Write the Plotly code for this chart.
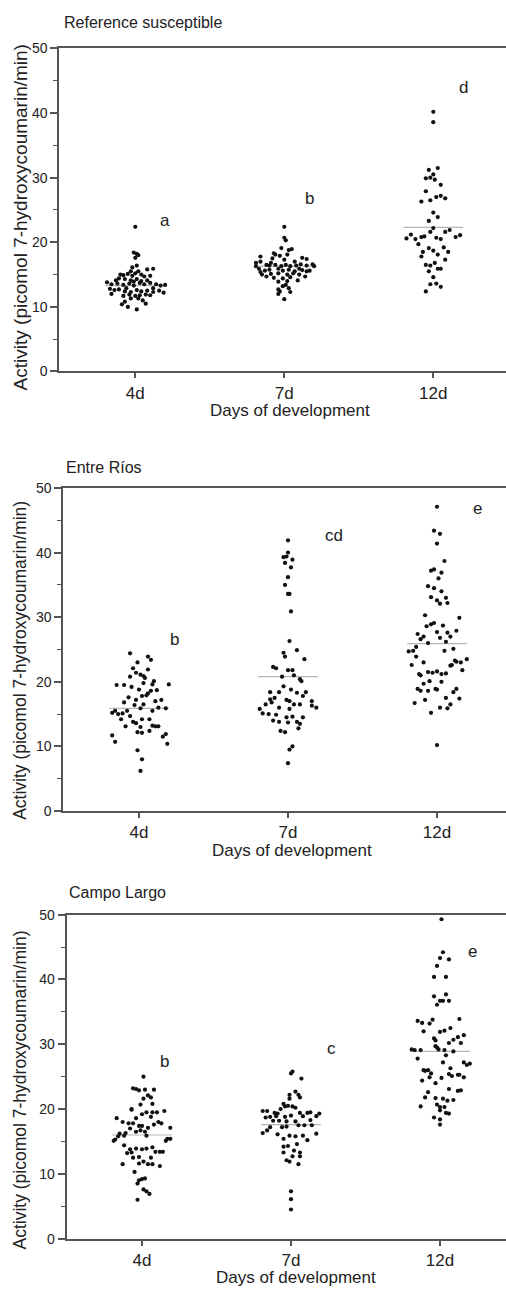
import plotly.graph_objects as go

# ---------------- data ----------------
categories = ["4d", "7d", "12d"]
panel_titles = ["Reference susceptible", "Entre Ríos", "Campo Largo"]

# Reference susceptible
ref_4d = [22.4,18.4,18.2,18.0,17.6,16.4,16.1,15.8,15.9,15.0,
          14.9,15.1,14.8,15.2,15.0,14.7,14.8,14.4,14.3,14.1,
          14.3,14.0,14.1,13.8,13.5,13.6,13.4,13.6,13.3,13.7,
          13.5,13.7,13.5,13.3,13.4,12.8,12.6,12.7,12.4,12.3,
          12.6,12.4,12.5,12.3,12.5,12.2,12.0,11.9,11.7,11.8,
          11.3,11.3,11.0,10.8,10.5,10.0,9.6,10.4,14.1,12.9,
          12.9,11.9,13.9,11.8,11.7,15.5,15.5]
ref_4d_dx = [0.00,-0.01,0.01,0.02,0.00,0.01,-0.02,0.08,0.12,-0.10,
             -0.08,-0.05,-0.02,0.00,0.04,0.06,0.10,-0.11,-0.07,-0.03,
             0.01,0.04,0.08,-0.19,-0.16,-0.12,-0.08,-0.04,-0.01,0.03,
             0.06,0.10,0.14,0.17,0.20,-0.17,-0.14,-0.11,-0.07,-0.03,
             0.01,0.04,0.08,0.12,0.16,0.19,-0.16,-0.04,0.00,0.03,
             -0.03,0.02,0.05,-0.07,0.07,-0.05,0.01,-0.09,-0.13,0.12,
             -0.06,0.07,-0.01,0.10,-0.08,0.02,-0.03]
ref_7d = [22.4,20.7,20.3,19.1,18.8,18.95,18.1,17.9,18.1,17.8,
          17.5,17.6,17.4,16.8,17.0,16.5,16.8,16.5,16.3,16.5,
          16.3,16.4,16.6,16.4,16.6,15.9,15.6,15.75,15.9,15.6,
          15.75,15.5,15.7,15.6,15.0,15.1,15.2,15.0,15.2,15.0,
          14.7,14.5,14.4,14.6,14.1,13.9,13.2,13.4,12.9,12.4,
          12.3,12.0,11.2,16.4,15.5,14.7,17.0,16.3,15.9,17.3,
          18.3,16.3,15.4,14.0,12.7]
ref_7d_dx = [0.00,0.00,0.01,-0.02,0.03,0.05,-0.06,-0.03,0.02,-0.16,
             -0.08,0.12,0.15,-0.19,-0.16,-0.12,-0.09,-0.06,-0.02,0.01,
             0.04,0.08,0.11,0.15,0.19,-0.17,-0.13,-0.10,-0.04,-0.01,
             0.03,0.07,0.12,0.17,-0.15,-0.09,-0.04,0.02,0.06,0.10,
             0.14,-0.07,-0.01,0.04,0.09,-0.04,-0.01,0.01,0.03,-0.03,
             0.04,-0.04,0.00,-0.10,0.15,-0.12,0.07,-0.19,0.10,0.00,
             -0.07,0.20,-0.16,0.02,-0.04]
ref_12d = [40.2,38.6,31.2,31.5,30.5,29.9,30.0,29.7,28.9,27.9,
           26.3,26.5,27.0,27.2,26.8,24.6,23.9,23.3,22.2,21.6,
           21.2,20.6,20.5,20.8,20.9,20.7,20.5,21.6,21.9,20.8,
           21.1,19.7,19.1,18.7,18.5,18.1,19.2,18.5,17.8,17.3,
           16.5,16.4,16.8,15.9,15.9,15.5,14.6,13.5,13.6,13.1,
           12.4]
ref_12d_dx = [0.00,0.00,-0.03,0.03,0.00,-0.05,-0.02,0.01,0.05,-0.05,
              -0.08,-0.02,0.02,0.05,0.08,0.00,0.03,-0.03,0.00,-0.02,
              -0.15,-0.18,-0.12,-0.08,-0.06,0.02,0.05,0.08,0.11,0.15,
              0.18,-0.10,-0.03,0.00,-0.07,0.03,0.07,0.10,-0.08,0.08,
              -0.05,-0.02,0.01,0.03,0.05,-0.03,0.00,-0.02,0.02,0.05,
              -0.05]

# Entre Ríos
er_4d = [24.4,23.9,23.4,23.0,22.1,21.9,20.8,21.1,20.9,20.6,
         21.4,19.5,19.5,19.2,19.8,19.6,19.6,18.8,18.6,18.7,
         18.2,17.6,17.8,17.9,17.2,17.0,17.2,16.4,15.9,16.0,
         15.9,15.2,15.0,15.1,15.5,15.5,14.2,13.8,13.6,14.2,
         14.2,13.1,13.0,13.2,13.1,13.1,12.2,12.1,12.4,11.5,
         11.9,11.7,10.7,10.4,9.4,8.0,6.2,16.8,15.5,14.7,
         16.5,20.1]
er_4d_dx = [-0.06,0.06,0.08,-0.01,-0.04,0.06,-0.06,0.01,0.03,0.04,
            -0.02,-0.15,-0.10,-0.05,0.03,0.09,0.20,0.00,0.08,0.12,
            0.06,-0.07,0.02,0.05,-0.02,0.11,0.15,-0.03,0.01,0.13,
            0.18,-0.18,-0.14,-0.11,-0.08,-0.16,-0.12,-0.04,-0.02,0.02,
            0.07,-0.09,0.01,0.09,0.11,0.13,-0.01,0.02,0.07,0.16,
            0.18,-0.18,-0.16,0.19,-0.01,0.02,0.01,-0.10,0.09,-0.06,
            0.03,0.10]
er_7d = [41.9,40.0,39.3,39.4,38.9,38.4,37.7,36.2,35.0,33.6,
         33.6,30.9,26.3,24.5,23.9,24.9,23.5,22.3,22.1,21.8,
         21.8,20.8,21.0,20.4,20.1,19.3,18.4,18.4,18.8,18.3,
         18.4,17.5,17.2,17.0,17.8,16.5,16.8,16.0,16.5,16.5,
         16.3,16.0,15.8,15.1,15.0,14.9,14.5,14.6,14.5,14.0,
         13.8,13.7,13.8,13.5,12.8,12.4,12.2,10.0,9.5,7.4,
         17.0,17.3,15.8]
er_7d_dx = [0.00,0.00,-0.03,-0.01,0.03,-0.02,0.02,0.00,-0.02,0.00,
            0.01,0.02,0.01,-0.03,-0.02,0.06,0.11,-0.10,-0.08,0.00,
            0.03,-0.04,0.04,0.08,0.09,-0.03,-0.12,-0.06,0.02,0.06,
            0.12,-0.09,-0.01,0.01,0.10,-0.15,-0.11,-0.06,0.04,0.08,
            0.16,0.19,-0.19,-0.17,-0.13,-0.08,-0.01,0.03,0.10,-0.10,
            -0.06,0.00,0.06,0.08,0.07,-0.05,-0.02,0.03,0.01,0.00,
            0.16,-0.12,0.01]
er_12d = [47.1,43.4,42.9,41.4,38.7,37.2,37.4,36.9,36.0,34.8,
          34.5,34.0,33.1,32.6,33.0,32.1,32.2,30.3,29.9,28.6,
          28.9,29.1,28.7,27.7,27.6,27.9,27.4,27.0,26.6,26.0,
          26.8,26.2,27.0,24.7,24.8,25.4,24.8,25.1,22.6,23.9,
          23.0,23.3,23.1,23.0,23.5,22.5,22.6,21.8,21.2,21.0,
          21.5,21.4,21.6,21.2,21.3,19.7,20.1,18.9,18.8,20.0,
          18.9,18.6,18.6,18.4,18.9,17.5,17.4,16.7,17.2,16.0,
          15.9,16.5,15.2,10.2]
er_12d_dx = [0.00,-0.02,0.02,0.00,0.05,-0.04,-0.02,0.03,0.01,-0.06,
             -0.02,0.03,-0.04,0.00,0.06,0.02,0.07,-0.08,0.15,-0.07,
             -0.04,-0.02,0.04,0.00,0.07,0.13,-0.13,-0.09,-0.11,-0.06,
             0.02,0.06,0.09,-0.19,-0.16,-0.14,0.05,0.11,-0.17,-0.14,
             -0.09,0.12,0.13,0.16,0.20,0.09,0.10,0.17,-0.12,-0.11,
             -0.06,-0.03,0.00,0.03,0.06,-0.09,-0.05,-0.01,0.00,0.03,
             -0.13,-0.11,-0.06,0.11,0.13,0.06,0.15,-0.15,-0.08,0.02,
             0.07,0.09,-0.04,0.00]

# Campo Largo
cl_4d = [25.0,23.2,23.1,22.9,23.0,23.0,22.1,21.8,21.6,20.7,
         20.8,20.0,19.9,19.5,19.5,19.5,19.7,19.2,18.6,18.6,
         18.8,18.0,17.8,18.0,17.8,17.8,17.4,17.4,17.6,17.1,
         17.0,16.5,16.7,16.5,17.1,16.2,16.3,15.9,15.9,15.3,
         15.1,15.8,15.4,15.4,15.1,14.4,13.8,13.9,13.8,13.9,
         14.1,13.2,13.3,13.4,13.4,13.4,12.5,12.6,12.5,11.5,
         11.6,11.9,11.5,11.5,11.2,10.3,9.0,9.2,9.3,8.5,
         7.6,7.3,6.9,6.0]
cl_4d_dx = [0.01,-0.06,-0.04,-0.02,0.02,0.08,0.04,0.06,0.01,-0.01,
            0.07,-0.07,-0.07,0.03,0.07,0.10,0.15,0.00,-0.17,-0.04,
            0.06,0.11,0.13,-0.13,-0.09,-0.06,-0.02,0.00,0.08,0.04,
            -0.08,-0.04,-0.01,0.02,0.19,-0.15,-0.11,0.03,-0.12,-0.18,
            -0.19,-0.16,0.17,0.19,0.16,-0.12,-0.08,-0.04,0.00,0.03,
            0.07,-0.10,-0.07,0.09,0.12,0.14,-0.06,-0.02,0.06,-0.13,
            -0.02,0.01,0.04,0.07,0.12,-0.05,-0.02,0.00,0.02,-0.03,
            0.01,0.03,0.05,-0.03]
cl_7d = [25.8,25.5,24.7,22.7,22.2,22.2,21.8,21.6,20.8,20.4,
         20.5,20.4,20.2,20.0,19.7,19.7,19.4,19.3,19.4,19.4,
         19.5,19.3,18.7,18.8,18.9,18.8,19.0,18.9,18.9,18.2,
         18.1,18.1,17.5,17.5,17.5,17.2,17.2,17.3,16.3,16.7,
         16.1,15.4,15.9,15.8,15.9,16.2,15.2,14.2,14.3,14.6,
         13.6,13.3,13.3,12.7,12.7,12.1,11.9,11.5,7.3,6.1,
         4.5,18.2,18.3]
cl_7d_dx = [0.01,0.00,0.07,0.03,0.05,-0.01,0.06,-0.01,-0.05,-0.04,
            -0.02,0.01,0.03,-0.07,-0.19,-0.16,-0.11,-0.09,0.06,0.11,
            0.13,0.19,-0.17,-0.14,-0.10,-0.04,0.00,0.08,0.17,-0.12,
            -0.03,0.03,0.05,0.09,0.14,-0.14,-0.06,-0.03,-0.19,-0.16,
            -0.09,-0.05,-0.01,0.03,0.08,0.17,0.11,-0.05,-0.02,0.04,
            0.02,0.06,-0.05,0.01,0.06,-0.03,-0.01,0.05,0.00,0.00,
            0.00,-0.08,0.13]
cl_12d = [49.3,44.2,43.3,43.1,42.1,40.4,40.4,37.4,37.7,36.7,
          36.7,36.7,36.1,33.6,33.3,33.2,33.8,33.9,32.0,31.9,
          32.1,32.5,30.9,30.6,30.2,30.7,31.1,31.4,30.2,29.7,
          29.5,29.2,29.2,29.1,29.1,29.1,27.8,28.3,28.9,27.2,
          27.2,26.8,27.0,26.0,25.9,26.0,25.5,26.3,25.4,25.1,
          25.3,25.3,24.8,24.9,24.4,24.9,24.0,23.1,22.8,22.9,
          22.6,21.8,21.7,21.6,21.3,21.4,20.4,20.7,20.3,20.3,
          19.8,19.4,18.7,18.4,19.3,17.6]
cl_12d_dx = [0.01,0.02,0.00,0.06,-0.02,-0.04,0.04,-0.04,0.04,0.00,
             0.02,0.06,-0.02,-0.15,-0.12,-0.07,-0.05,0.13,-0.11,0.00,
             0.03,0.07,-0.04,-0.03,0.06,0.09,0.12,0.16,0.14,-0.03,
             -0.02,-0.01,-0.19,-0.17,-0.13,0.03,-0.15,0.04,0.09,0.02,
             0.16,0.18,0.20,-0.11,-0.10,-0.08,-0.06,0.07,0.06,0.08,
             0.12,0.13,0.01,0.16,-0.12,-0.07,-0.03,0.06,0.12,0.14,
             -0.08,-0.10,-0.03,0.02,0.05,0.09,-0.13,-0.02,0.00,0.03,
             0.00,0.04,-0.04,0.00,0.06,0.00]

# group means (grey horizontal lines)
ref_means = [13.3, 16.3, 22.3]
er_means = [15.9, 20.8, 25.9]
cl_means = [16.0, 17.6, 28.9]

# significance letters: (category position, value)
ref_letters = ["a", "b", "d"]
ref_letter_x = [1.20, 2.17, 3.20]
ref_letter_y = [23.4, 26.8, 43.9]
er_letters = ["b", "cd", "e"]
er_letter_x = [1.24, 2.31, 3.27]
er_letter_y = [26.6, 42.7, 46.8]
cl_letters = ["b", "c", "e"]
cl_letter_x = [1.15, 2.27, 3.22]
cl_letter_y = [27.4, 29.4, 44.3]

# ---------------- figure ----------------
W, H = 506, 1299
FONT = "Liberation Sans, Arial, sans-serif"
TXT = "#222222"
AX = "#555555"


def px(p):
    return p / W


def py(p):
    return 1 - p / H


panels = [
    dict(groups=[(ref_4d, ref_4d_dx), (ref_7d, ref_7d_dx), (ref_12d, ref_12d_dx)],
         means=ref_means, letters=(ref_letters, ref_letter_x, ref_letter_y),
         top=41, bottom=368, left=59.3, c1=135.3, step=149.0,
         title_xy=(62, 15), xtitle_xy=(290, 408), ytitle=(20, 212, 19)),
    dict(groups=[(er_4d, er_4d_dx), (er_7d, er_7d_dx), (er_12d, er_12d_dx)],
         means=er_means, letters=(er_letters, er_letter_x, er_letter_y),
         top=486, bottom=813, left=63.3, c1=139.0, step=149.0,
         title_xy=(64, 465), xtitle_xy=(292, 853), ytitle=(20, 661, 17.5)),
    dict(groups=[(cl_4d, cl_4d_dx), (cl_7d, cl_7d_dx), (cl_12d, cl_12d_dx)],
         means=cl_means, letters=(cl_letters, cl_letter_x, cl_letter_y),
         top=918, bottom=1246, left=66.7, c1=142.0, step=149.0,
         title_xy=(67, 896), xtitle_xy=(296, 1285), ytitle=(20, 1096, 17.5)),
]

fig = go.Figure()
annotations = []
layout_axes = {}

for i, p in enumerate(panels):
    s = "" if i == 0 else str(i + 1)
    xa, ya = "x" + s, "y" + s
    for g, (vals, dxs) in enumerate(p["groups"]):
        c = g + 1
        m = p["means"][g]
        fig.add_trace(go.Scatter(
            x=[c - 0.2, c + 0.2], y=[m, m], mode="lines",
            line=dict(color="#b4b4b4", width=1.2),
            xaxis=xa, yaxis=ya, showlegend=False, hoverinfo="skip"))
        fig.add_trace(go.Scatter(
            x=[c + d for d in dxs], y=vals, mode="markers",
            marker=dict(color="#111111", size=4.2, line=dict(width=0)),
            xaxis=xa, yaxis=ya, showlegend=False))
    labs, lx, ly = p["letters"]
    for t, x, y in zip(labs, lx, ly):
        annotations.append(dict(text=t, x=x, y=y, xref=xa, yref=ya,
                                showarrow=False, font=dict(size=17, color=TXT, family=FONT)))
    tx, ty = p["title_xy"]
    annotations.append(dict(text=panel_titles[i], x=px(tx), y=py(ty), xref="paper", yref="paper",
                            xanchor="left", yanchor="middle", showarrow=False,
                            font=dict(size=16, color=TXT, family=FONT)))
    xx, xy = p["xtitle_xy"]
    annotations.append(dict(text="Days of development", x=px(xx), y=py(xy), xref="paper", yref="paper",
                            xanchor="center", yanchor="middle", showarrow=False,
                            font=dict(size=17, color=TXT, family=FONT)))
    yx, yy, ys = p["ytitle"]
    annotations.append(dict(text="Activity (picomol 7-hydroxycoumarin/min)", x=px(yx), y=py(yy),
                            xref="paper", yref="paper", xanchor="center", yanchor="middle",
                            textangle=-90, showarrow=False,
                            font=dict(size=ys, color=TXT, family=FONT)))

    lo = 1 - (p["c1"] - p["left"]) / p["step"]
    hi = 1 + (W - p["c1"]) / p["step"]
    layout_axes["xaxis" + s] = dict(
        domain=[px(p["left"]), 1.0], anchor=ya, range=[lo, hi],
        tickmode="array", tickvals=[1, 2, 3], ticktext=categories,
        ticks="outside", ticklen=5, tickwidth=1.5, tickcolor=AX,
        showline=True, linecolor=AX, linewidth=2, mirror=True,
        showgrid=False, zeroline=False,
        tickfont=dict(size=17, color=TXT, family=FONT))
    layout_axes["yaxis" + s] = dict(
        domain=[py(p["bottom"]), py(p["top"])], anchor=xa, range=[0, 50],
        tickmode="linear", tick0=0, dtick=10,
        ticks="outside", ticklen=7, tickwidth=1.5, tickcolor=AX,
        minor=dict(dtick=5, ticks="outside", ticklen=4, tickwidth=1.2, tickcolor=AX),
        showline=True, linecolor=AX, linewidth=2,
        showgrid=False, zeroline=False,
        tickfont=dict(size=14, color=TXT, family=FONT))

fig.update_layout(
    width=W, height=H, autosize=False,
    margin=dict(l=0, r=0, t=0, b=0),
    paper_bgcolor="white", plot_bgcolor="white",
    showlegend=False, annotations=annotations,
    font=dict(family=FONT, color=TXT),
    **layout_axes)

# let the 506 x 1299 figure fill the window exactly (no default body margin)
fig.write_html("out.html",
               config={"displayModeBar": False},
               post_script="document.body.style.margin='0';document.body.style.overflow='hidden';")
